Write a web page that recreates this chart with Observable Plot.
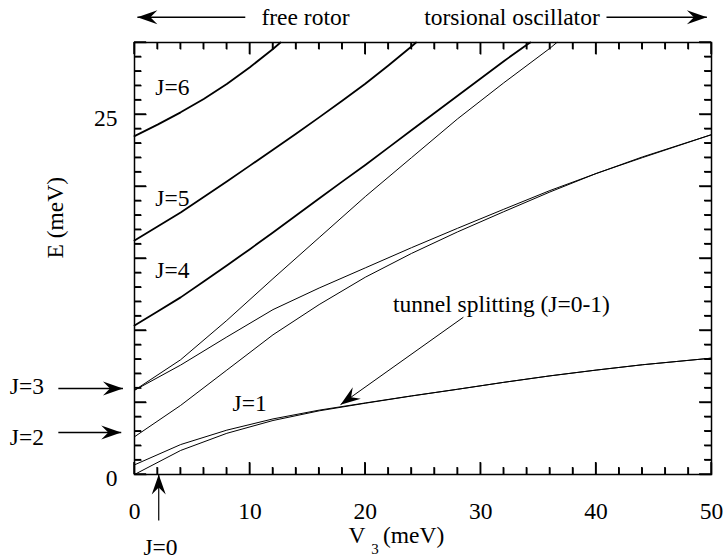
<!DOCTYPE html>
<html><head><meta charset="utf-8">
<script src="https://cdn.jsdelivr.net/npm/d3@7"></script>
<script src="https://cdn.jsdelivr.net/npm/@observablehq/plot@0.6"></script>
<style>body{margin:0;background:#fff} svg{display:block}</style>
</head><body><div id="chart"></div>
<script>
// ---- data: energy levels E (meV) of a hindered methyl rotor vs barrier V3 (meV)
const v3Grid = [0, 4, 8, 12, 16, 20, 24, 28, 32, 36, 40, 44, 50];
const eJ0  = [0, 1.67, 2.86, 3.75, 4.42, 4.95, 5.45, 5.92, 6.40, 6.85, 7.25, 7.62, 8.08];
const eJ1  = [0.67, 2.08, 3.08, 3.86, 4.47, 4.97, 5.46, 5.92, 6.40, 6.85, 7.25, 7.62, 8.08];
const eJ2  = [2.62, 4.8, 7.25, 9.7, 11.8, 13.7, 15.35, 16.85, 18.25, 19.62, 20.9, 22.05, 23.6];
const eJ3a = [5.85, 7.6, 9.55, 11.45, 12.95, 14.35, 15.75, 17.1, 18.42, 19.72, 20.9, 22.0, 23.6];
const v3J3b = [0, 4, 8, 12, 16, 20, 24, 28, 32, 36, 36.6];
const eJ3b  = [5.85, 7.97, 10.7, 13.6, 16.45, 19.3, 22.0, 24.7, 27.2, 29.6, 30];
const v3J4 = [0, 2, 4, 6, 8, 10, 12, 14, 16, 18, 20, 22, 24, 26, 28, 30, 32, 34, 34.3];
const eJ4  = [10.35, 11.32, 12.3, 13.4, 14.52, 15.65, 16.8, 17.98, 19.16, 20.34, 21.5, 22.7, 23.9, 25.1, 26.3, 27.5, 28.7, 29.85, 30];
const v3J5 = [0, 2, 4, 6, 8, 10, 12, 14, 16, 18, 20, 22, 24, 24.4];
const eJ5  = [16.25, 17.22, 18.2, 19.27, 20.35, 21.45, 22.55, 23.67, 24.8, 25.95, 27.13, 28.4, 29.72, 30];
const v3J6 = [0, 2, 4, 6, 8, 10, 12, 12.65];
const eJ6  = [23.5, 24.3, 25.15, 26.08, 27.12, 28.28, 29.55, 30];

const xTickLabels = [0, 10, 20, 30, 40, 50];
const yTickLabels = [0, 25];

// ---- tables built from the arrays
const thinCurves = [
  ["J0", v3Grid, eJ0], ["J1", v3Grid, eJ1], ["J2", v3Grid, eJ2],
  ["J3a", v3Grid, eJ3a], ["J3b", v3J3b, eJ3b]
];
const thickCurves = [["J4", v3J4, eJ4], ["J5", v3J5, eJ5], ["J6", v3J6, eJ6]];
const toRows = list => list.flatMap(([c, xs, ys]) => xs.map((x, i) => ({curve: c, v3: x, e: ys[i]})));
const thinRows = toRows(thinCurves);
const thickRows = toRows(thickCurves);

// curve labels
const curveLabels = [
  {t: "J=6", x: 1.8, y: 26.9}, {t: "J=5", x: 1.8, y: 19.15},
  {t: "J=4", x: 1.8, y: 14.17}, {t: "J=1", x: 8.5, y: 4.95},
  {t: "tunnel splitting (J=0-1)", x: 22.4, y: 11.8}
];
// annotations outside the frame
const sideLabels = [
  {t: "J=3", x: -10.8, y: 6.1}, {t: "J=2", x: -10.8, y: 2.57}
];
const topLabels = [
  {t: "free rotor", x: 11.0, y: 31.75}, {t: "torsional oscillator", x: 25.1, y: 31.75}
];
const arrows = [
  {x1: 9.6, y1: 31.75, x2: 0.25, y2: 31.75, w: 1.4},
  {x1: 40.9, y1: 31.75, x2: 49.6, y2: 31.75, w: 1.4},
  {x1: -6.6, y1: 5.97, x2: -1.0, y2: 5.97, w: 1.4},
  {x1: -6.6, y1: 2.92, x2: -1.15, y2: 2.92, w: 1.4},
  {x1: 2.1, y1: -3.2, x2: 2.1, y2: 0, w: 1.2},
  {x1: 28.5, y1: 10.92, x2: 17.85, y2: 4.85, w: 1}
];

// ---- layout
const W = 725, H = 560, mL = 134, mR = 14, mT = 42, mB = 86;
const pw = W - mL - mR, ph = H - mT - mB;
const kx = pw / 50, ky = ph / 30;
arrows.forEach(a => { a.angle = Math.atan2(-(a.y2 - a.y1) * ky, (a.x2 - a.x1) * kx) * 180 / Math.PI; });

const stealth = {
  draw(ctx) {
    ctx.moveTo(0, 0); ctx.lineTo(-20, -7); ctx.lineTo(-13, 0); ctx.lineTo(-20, 7); ctx.closePath();
  }
};

// tick segments (inward on all four sides)
const xTickRows = [];
for (let v = 0; v <= 50; v += 2) {
  const len = (v % 10 === 0 ? 12 : 7) / ky;
  xTickRows.push({v, a: 0, b: len});
  xTickRows.push({v, a: 30 - len, b: 30});
}
const yTickRows = [];
for (let v = 0; v <= 30; v += 1) {
  const len = (v % 5 === 0 ? 12 : 7) / kx;
  yTickRows.push({v, a: 0, b: len});
  yTickRows.push({v, a: 50 - len, b: 50});
}

const chart = Plot.plot({
  width: W, height: H,
  marginLeft: mL, marginRight: mR, marginTop: mT, marginBottom: mB,
  style: {fontFamily: "'Liberation Serif', 'Times New Roman', serif", fontSize: "23.5px"},
  x: {domain: [0, 50]},
  y: {domain: [0, 30]},
  marks: [
    Plot.frame({stroke: "black", strokeWidth: 1.5}),
    Plot.link(xTickRows, {x1: "v", x2: "v", y1: "a", y2: "b", stroke: "black", strokeWidth: 1.4}),
    Plot.link(yTickRows, {x1: "a", x2: "b", y1: "v", y2: "v", stroke: "black", strokeWidth: 1.4}),
    Plot.axisX({ticks: xTickLabels, tickSize: 0, tickPadding: 28, label: null}),
    Plot.axisY({ticks: yTickLabels, tickSize: 0, tickPadding: 17, dy: 4, label: null}),
    // curves
    Plot.line(thinRows, {x: "v3", y: "e", z: "curve", stroke: "black", strokeWidth: 1}),
    Plot.line(thickRows, {x: "v3", y: "e", z: "curve", stroke: "black", strokeWidth: 1.8}),
    // labels
    Plot.text(curveLabels, {x: "x", y: "y", text: "t", textAnchor: "start", fill: "black"}),
    Plot.text(sideLabels, {x: "x", y: "y", text: "t", textAnchor: "start", fill: "black"}),
    Plot.text(topLabels, {x: "x", y: "y", text: "t", textAnchor: "start", fill: "black"}),
    Plot.text(["J=0"], {x: 2.25, y: -5.05, text: d => d, fill: "black"}),
    Plot.text(["E (meV)"], {frameAnchor: "left", dx: -79, rotate: -90, text: d => d, fill: "black"}),
    Plot.text(["V"], {frameAnchor: "bottom", dx: -66, dy: 68, text: d => d, fill: "black"}),
    Plot.text(["3"], {frameAnchor: "bottom", dx: -48, dy: 79, text: d => d, fontSize: 15, fill: "black"}),
    Plot.text(["(meV)"], {frameAnchor: "bottom", dx: -40, dy: 68, text: d => d, textAnchor: "start", fill: "black"}),
    // arrows
    Plot.link(arrows, {x1: "x1", y1: "y1", x2: "x2", y2: "y2", stroke: "black", strokeWidth: "w"}),
    Plot.dot(arrows, {x: "x2", y: "y2", symbol: stealth, rotate: "angle", fill: "black", stroke: "none"})
  ]
});

// reinforce the inward axis ticks using Plot's own scales
const sx = chart.scale("x"), sy = chart.scale("y");
const g = d3.select(chart).append("g").attr("stroke", "black").attr("stroke-width", 1.4);
xTickRows.forEach(r => g.append("line")
  .attr("x1", sx.apply(r.v)).attr("x2", sx.apply(r.v))
  .attr("y1", sy.apply(r.a)).attr("y2", sy.apply(r.b)));
yTickRows.forEach(r => g.append("line")
  .attr("x1", sx.apply(r.a)).attr("x2", sx.apply(r.b))
  .attr("y1", sy.apply(r.v)).attr("y2", sy.apply(r.v)));

document.getElementById("chart").appendChild(chart);
</script>
</body></html>
